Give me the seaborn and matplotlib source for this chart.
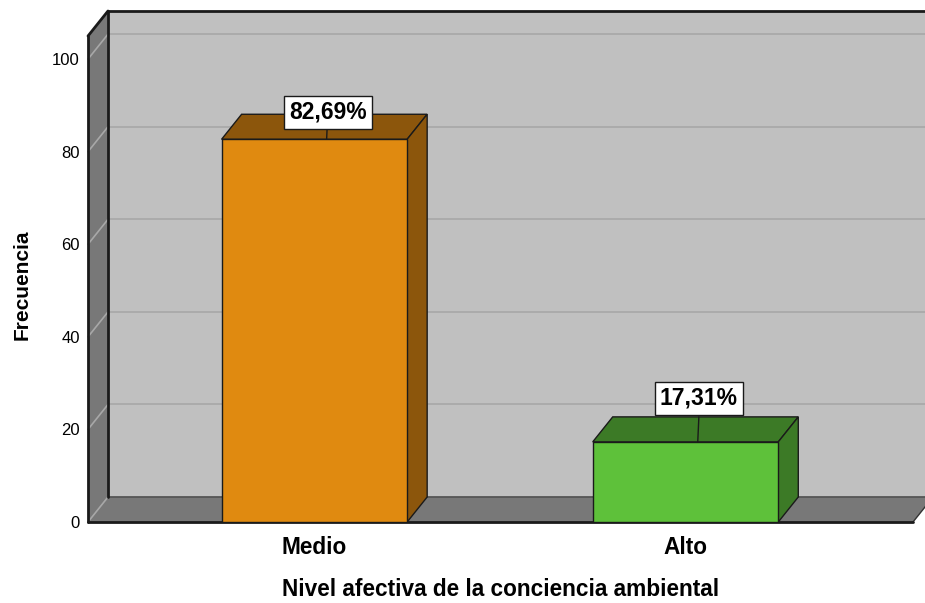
import matplotlib
matplotlib.use("Agg")
import matplotlib.pyplot as plt
from matplotlib.patches import Polygon, Rectangle
import seaborn as sns
import pandas as pd

# ---- data ----
categories = ["Medio", "Alto"]
values = [82.69, 17.31]
value_labels = ["82,69%", "17,31%"]
yticks = [0, 20, 40, 60, 80, 100]
x_title = "Nivel afectiva de la conciencia ambiental"
y_title = "Frecuencia"

# ---- style ----
front_colors = ["#E08A10", "#5EC13A"]
dark_colors = ["#8C560C", "#3C7A26"]
wall_color = "#C0C0C0"
floor_color = "#787878"
grid_color = "#A9A9A9"
FONT = "Liberation Sans"

sns.set_style("white")
plt.rcParams["font.family"] = [FONT, "DejaVu Sans"]
plt.rcParams["text.color"] = "black"
plt.rcParams["axes.labelcolor"] = "black"
plt.rcParams["xtick.color"] = "black"
plt.rcParams["ytick.color"] = "black"

W, H = 925, 603
fig = plt.figure(figsize=(W / 100, H / 100), dpi=100)
ax_left, ax_right, ax_bottom, ax_top = 88, 913, 522, 36
ax = fig.add_axes([ax_left / W, (H - ax_bottom) / H,
                   (ax_right - ax_left) / W, (ax_bottom - ax_top) / H])
ax.set_facecolor("none")

YMAX = 105
x0, x1 = -0.61, 1.613

# bars (front faces) via seaborn
df = pd.DataFrame({"cat": categories, "val": values})
sns.barplot(data=df, x="cat", y="val", hue="cat", palette=front_colors, width=0.5,
            legend=False, ax=ax, edgecolor="#1a1a1a", linewidth=1.0, saturation=1, zorder=2)
bars = sorted([p for p in ax.patches if isinstance(p, Rectangle)], key=lambda p: p.get_x())

ax.set_xlim(x0, x1)
ax.set_ylim(0, YMAX)

# depth offset (data units)
px_x = (x1 - x0) / (ax_right - ax_left)
px_y = YMAX / (ax_bottom - ax_top)
dx = 20 * px_x
dy = 25 * px_y

# back wall
ax.add_patch(Polygon([(x0 + dx, dy), (x1 + dx + 0.1, dy), (x1 + dx + 0.1, YMAX + dy), (x0 + dx, YMAX + dy)],
                     closed=True, fc=wall_color, ec="none", zorder=0.1, clip_on=False))
for t in yticks[1:]:
    ax.plot([x0 + dx, x1 + dx + 0.1], [t + dy, t + dy], color=grid_color, lw=1.3, zorder=0.2, clip_on=False)
# floor
ax.add_patch(Polygon([(x0, 0), (x1, 0), (x1 + dx, dy), (x0 + dx, dy)],
                     closed=True, fc=floor_color, ec="none", zorder=0.3, clip_on=False))
ax.plot([x0 + dx, x1 + dx + 0.1], [dy, dy], color="#555555", lw=1.3, zorder=0.35, clip_on=False)
ax.plot([x1, x1 + dx], [0, dy], color="#333333", lw=1.0, zorder=0.35, clip_on=False)
# left wall
ax.add_patch(Polygon([(x0, 0), (x0 + dx, dy), (x0 + dx, YMAX + dy), (x0, YMAX)],
                     closed=True, fc=floor_color, ec="none", zorder=0.4, clip_on=False))
for t in yticks:
    ax.plot([x0, x0 + dx], [t, t + dy], color="#A8A8A8", lw=1.2, zorder=0.45, clip_on=False)
# outlines
ax.plot([x0, x0], [0, YMAX], color="#1a1a1a", lw=2, zorder=0.5, clip_on=False)
ax.plot([x0, x0 + dx], [YMAX, YMAX + dy], color="#1a1a1a", lw=2, zorder=0.5, clip_on=False)
ax.plot([x0 + dx, x0 + dx], [dy, YMAX + dy], color="#1a1a1a", lw=2, zorder=0.5, clip_on=False)
ax.plot([x0 + dx, x1 + dx + 0.1], [YMAX + dy, YMAX + dy], color="#1a1a1a", lw=2, zorder=0.5, clip_on=False)
ax.plot([x0, x1], [0, 0], color="#1a1a1a", lw=2, zorder=0.5, clip_on=False)

label_offsets = [5.8, 9.4]
for i, p in enumerate(bars[:len(values)]):
    bx, bw, bh = p.get_x(), p.get_width(), p.get_height()
    dc = dark_colors[i]
    ax.add_patch(Polygon([(bx, bh), (bx + bw, bh), (bx + bw + dx, bh + dy), (bx + dx, bh + dy)],
                         closed=True, fc=dc, ec="#1a1a1a", lw=1.0, zorder=1.8, clip_on=False))
    ax.add_patch(Polygon([(bx + bw, 0), (bx + bw + dx, dy), (bx + bw + dx, bh + dy), (bx + bw, bh)],
                         closed=True, fc=dc, ec="#1a1a1a", lw=1.0, zorder=1.8, clip_on=False))
    cx = bx + bw / 2 + 0.036
    ax.plot([cx, cx - 0.003], [bh + dy, bh], color="#1a1a1a", lw=1.0, zorder=2.5)
    ax.text(cx, values[i] + label_offsets[i], value_labels[i], ha="center", va="center",
            fontsize=16.5, fontweight="bold", color="black", zorder=3,
            bbox=dict(boxstyle="square,pad=0.22", fc="white", ec="#1a1a1a", lw=1.0))

for s in ax.spines.values():
    s.set_visible(False)
ax.set_yticks(yticks)
ax.set_yticklabels([str(t) for t in yticks], fontsize=12)
ax.tick_params(axis="y", length=0, pad=6)
ax.tick_params(axis="x", length=0, pad=10)
for lab in ax.get_xticklabels():
    lab.set_fontsize(16.3)
    lab.set_fontweight("bold")
ax.set_xlabel(x_title, fontsize=16.3, fontweight="bold")
ax.set_ylabel(y_title, fontsize=15, fontweight="bold")
ax.xaxis.set_label_coords(0.5, (ax_bottom - 590) / (ax_bottom - ax_top))
ax.xaxis.label.set_va("center")
ax.yaxis.set_label_coords((22 - ax_left) / (ax_right - ax_left), (ax_bottom - 285) / (ax_bottom - ax_top))
ax.yaxis.label.set_va("center")
ax.grid(False)

fig.savefig("out.png", dpi=100)
